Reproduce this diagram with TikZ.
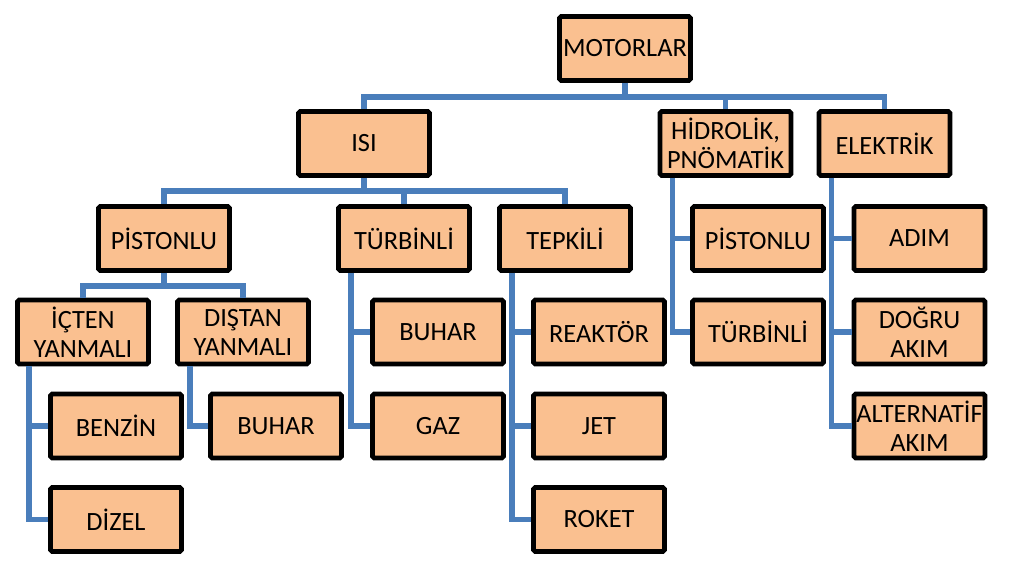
\documentclass[tikz,border=0pt]{standalone}
\usepackage{fontspec}
\setmainfont{Carlito}
\definecolor{boxfill}{RGB}{250,192,144}
\definecolor{linkblue}{RGB}{74,126,187}

\begin{document}
\begin{tikzpicture}[
    x=0.02cm, y=-0.02cm,
    motbox/.style={
        rectangle,
        draw,
        line width=2.7pt,
        fill=boxfill,
        rounded corners=1pt,
        minimum width=2.62cm,
        minimum height=1.28cm,
        inner sep=0pt,
        align=center,
        font=\fontsize{15}{16.5}\selectfont,
    },
    link/.style={
        draw=linkblue,
        line width=3.2pt,
    },
]
    \useasboundingbox (0,0) rectangle (1024,575);

    \node[motbox] (motor)   at (625,48.5)   {MOTORLAR};

    \node[motbox] (isi)     at (364,143.5)  {ISI};
    \node[motbox] (hidro)   at (725.5,143.5) {HİDROLİK,\\PNÖMATİK};
    \node[motbox] (elek)    at (884.5,143.5) {ELEKTRİK};

    \node[motbox] (piston)  at (164,238.5)  {PİSTONLU};
    \node[motbox] (turbin)  at (404,238.5)  {TÜRBİNLİ};
    \node[motbox] (tepki)   at (565,238.5)  {TEPKİLİ};

    \node[motbox] (icten)   at (83,332)     {İÇTEN\\YANMALI};
    \node[motbox] (distan)  at (243,332)    {DIŞTAN\\YANMALI};
    \node[motbox] (benzin)  at (116,426)    {BENZİN};
    \node[motbox] (dizel)   at (116,519.5)  {DİZEL};
    \node[motbox] (dbuhar)  at (276,426)    {BUHAR};

    \node[motbox] (tbuhar)  at (438,332)    {BUHAR};
    \node[motbox] (gaz)     at (438,426)    {GAZ};

    \node[motbox] (reaktor) at (599,332)    {REAKTÖR};
    \node[motbox] (jet)     at (599,426)    {JET};
    \node[motbox] (roket)   at (599,519.5)  {ROKET};

    \node[motbox] (hpiston) at (758,238.5)  {PİSTONLU};
    \node[motbox] (hturbin) at (758,332)    {TÜRBİNLİ};

    \node[motbox] (adim)    at (919.5,238.5) {ADIM};
    \node[motbox] (dogru)   at (919.5,332)  {DOĞRU\\AKIM};
    \node[motbox] (altern)  at (919.5,426)  {ALTERNATİF\\AKIM};

    % tree links
    \draw[link] (motor.south) -- ++(0,14) -| (isi.north);
    \draw[link] (motor.south) -- ++(0,14) -| (hidro.north);
    \draw[link] (motor.south) -- ++(0,14) -| (elek.north);

    \draw[link] (isi.south) -- ++(0,13) -| (piston.north);
    \draw[link] (isi.south) -- ++(0,13) -| (turbin.north);
    \draw[link] (isi.south) -- ++(0,13) -| (tepki.north);

    \draw[link] (piston.south) -- ++(0,13) -| (icten.north);
    \draw[link] (piston.south) -- ++(0,13) -| (distan.north);

    % hanging links
    \draw[link] ([xshift=0.28cm]icten.south west) |- (benzin.west);
    \draw[link] ([xshift=0.28cm]icten.south west) |- (dizel.west);
    \draw[link] ([xshift=0.3cm]distan.south west) |- (dbuhar.west);

    \draw[link] ([xshift=0.3cm]turbin.south west) |- (tbuhar.west);
    \draw[link] ([xshift=0.3cm]turbin.south west) |- (gaz.west);

    \draw[link] ([xshift=0.3cm]tepki.south west) |- (reaktor.west);
    \draw[link] ([xshift=0.3cm]tepki.south west) |- (jet.west);
    \draw[link] ([xshift=0.3cm]tepki.south west) |- (roket.west);

    \draw[link] ([xshift=0.3cm]hidro.south west) |- (hpiston.west);
    \draw[link] ([xshift=0.3cm]hidro.south west) |- (hturbin.west);

    \draw[link] ([xshift=0.3cm]elek.south west) |- (adim.west);
    \draw[link] ([xshift=0.3cm]elek.south west) |- (dogru.west);
    \draw[link] ([xshift=0.3cm]elek.south west) |- (altern.west);

\end{tikzpicture}
\end{document}
